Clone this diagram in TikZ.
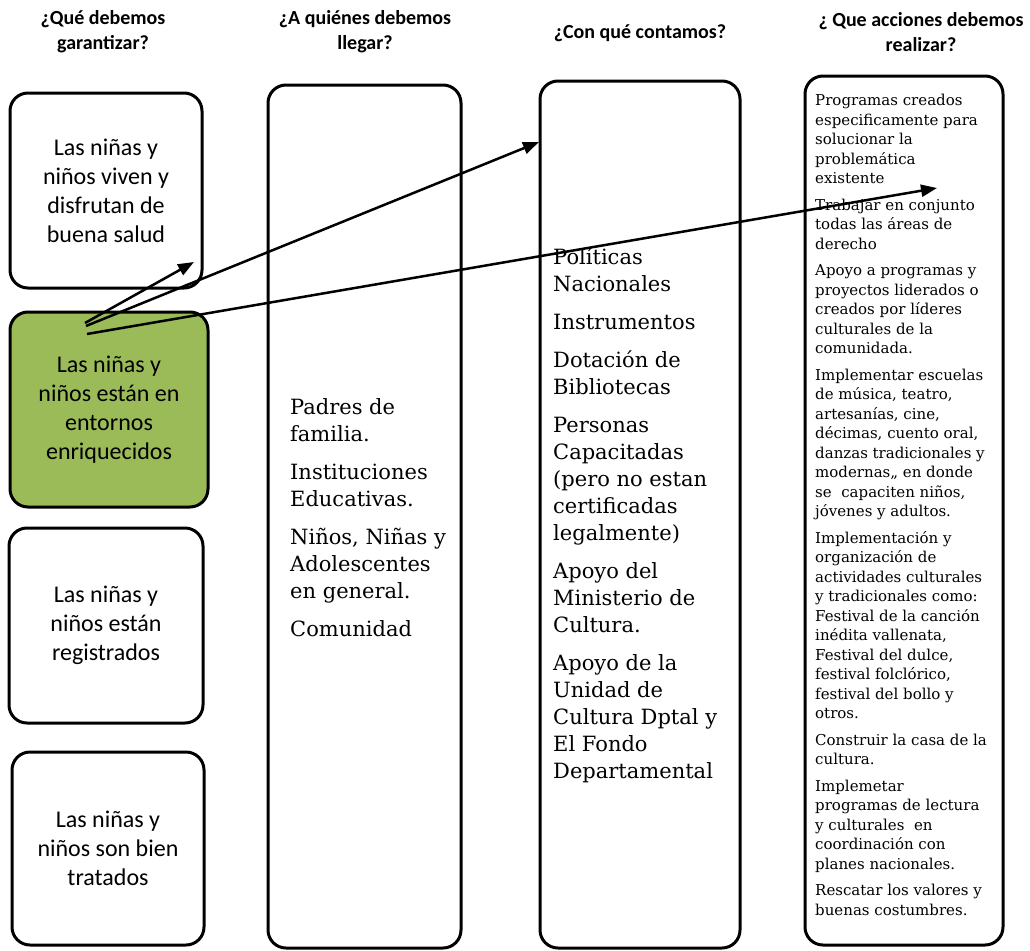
\documentclass[tikz,border=0pt]{standalone}
\usepackage{fontspec}
\setmainfont{DejaVu Serif}
\newfontfamily\calibri{Carlito}
\usetikzlibrary{arrows.meta}
\definecolor{olive}{HTML}{9BBB59}
\begin{document}
\begin{tikzpicture}[x=1pt,y=1pt,
  box/.style={draw, line width=3pt, rounded corners=18pt, inner sep=0pt},
  lbl/.style={font=\calibri\fontsize{24}{29}\selectfont, align=center},
  head/.style={font=\calibri\bfseries\fontsize{20}{25}\selectfont, align=center, inner sep=0pt},
  coltext/.style={font=\fontsize{21}{27}\selectfont, align=left, anchor=west, inner sep=0pt},
  acttext/.style={font=\fontsize{15}{19.5}\selectfont, align=left, anchor=west, inner sep=0pt},
  arr/.style={line width=2.5pt, -{Triangle[length=16pt,width=12pt]}}]
\useasboundingbox (0,0) rectangle (1030,-950);
\fill[white] (0,0) rectangle (1030,-950);

% headers
\node[head] (h1) at (103,-32) {¿Qué debemos\\garantizar?};
\node[head] (h2) at (365,-32) {¿A quiénes debemos\\llegar?};
\node[head] (h3) at (640,-33) {¿Con qué contamos?};
\node[head] (h4) at (921,-32) {¿ Que acciones debemos\\realizar?};

% left boxes
\node[box, lbl, minimum width=192, minimum height=195] (b1) at (106,-190.5)
  {Las niñas y\\niños viven y\\disfrutan de\\buena salud};
\node[box, lbl, fill=olive, minimum width=198, minimum height=195] (g) at (109,-409.5)
  {Las niñas y\\niños están en\\entornos\\enriquecidos};
\node[box, lbl, minimum width=194, minimum height=195] (b3) at (106,-625.5)
  {Las niñas y\\niños están\\registrados};
\node[box, lbl, minimum width=192, minimum height=193] (b4) at (108,-848.5)
  {Las niñas y\\niños son bien\\tratados};

% columns
\node[box, minimum width=193, minimum height=863] (c2) at (364.5,-516.5) {};
\node[box, minimum width=200, minimum height=867] (c3) at (640,-514.5) {};
\node[box, minimum width=198, minimum height=869] (c4) at (904,-510.5) {};

\node[coltext] (t2) at (290,-518) {Padres de\\familia.\\[11pt]
Instituciones\\Educativas.\\[11pt]
Niños, Niñas y\\Adolescentes\\en general.\\[11pt]
Comunidad};

\node[coltext] (t3) at (553,-515) {Políticas\\Nacionales\\[11pt]
Instrumentos\\[11pt]
Dotación de\\Bibliotecas\\[11pt]
Personas\\Capacitadas\\(pero no estan\\certificadas\\legalmente)\\[11pt]
Apoyo del\\Ministerio de\\Cultura.\\[11pt]
Apoyo de la\\Unidad de\\Cultura Dptal y\\El Fondo\\Departamental};

\node[acttext] (t4) at (815,-505) {Programas creados\\especificamente para\\solucionar la\\problemática\\existente\\[7pt]
Trabajar en conjunto\\todas las áreas de\\derecho\\[7pt]
Apoyo a programas y\\proyectos liderados o\\creados por líderes\\culturales de la\\comunidada.\\[7pt]
Implementar escuelas\\de música, teatro,\\artesanías, cine,\\décimas, cuento oral,\\danzas tradicionales y\\modernas,, en donde\\se\ \ capaciten niños,\\jóvenes y adultos.\\[7pt]
Implementación y\\organización de\\actividades culturales\\y tradicionales como:\\Festival de la canción\\inédita vallenata,\\Festival del dulce,\\festival folclórico,\\festival del bollo y\\otros.\\[7pt]
Construir la casa de la\\cultura.\\[7pt]
Implemetar\\programas de lectura\\y culturales\ \ en\\coordinación con\\planes nacionales.\\[7pt]
Rescatar los valores y\\buenas costumbres.};

% arrows
\coordinate (s1) at (85,-323);
\coordinate (s2) at (86,-326);
\coordinate (s3) at (87,-334);
\coordinate (e1) at (194,-262);
\coordinate (e2) at (539,-142);
\coordinate (e3) at (937,-188);
\draw[arr] (s1) -- (e1);
\draw[arr] (s2) -- (e2);
\draw[arr] (s3) -- (e3);
\end{tikzpicture}
\end{document}
